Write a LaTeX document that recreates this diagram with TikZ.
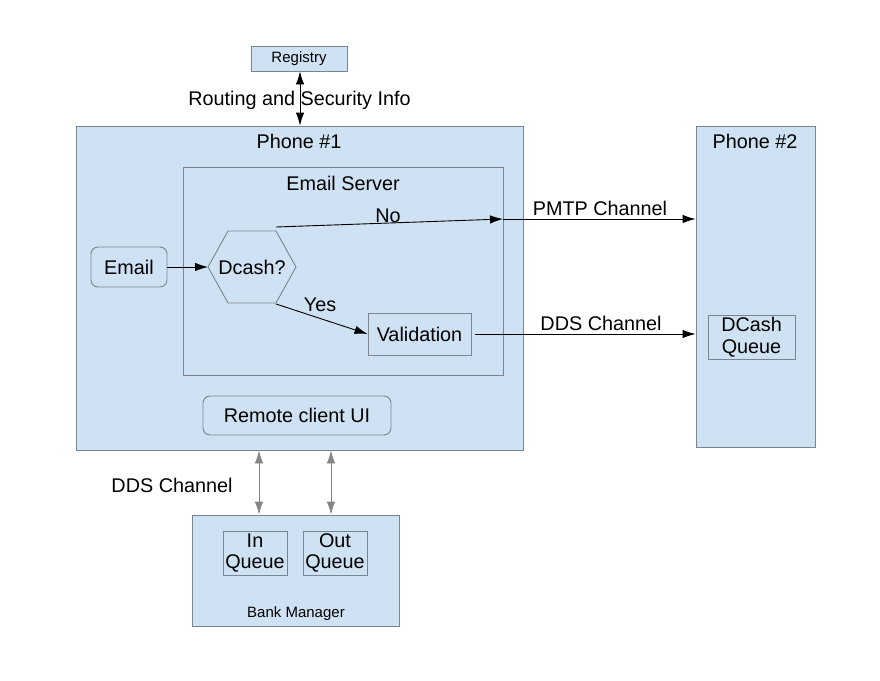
\documentclass[tikz,border=0pt]{standalone}
\usepackage{fontspec}
\setmainfont{Liberation Sans}
\usetikzlibrary{arrows.meta}
\definecolor{boxfill}{HTML}{CFE2F3}
\definecolor{boxline}{HTML}{7A858F}
\definecolor{greyarrow}{HTML}{858585}
\tikzset{
  box/.style={draw=boxline, fill=boxfill, line width=0.9pt, inner sep=0pt, minimum width=#1},
  rbox/.style={box=#1, rounded corners=7pt},
  txt/.style={font=\fontsize{19.8}{21.5}\selectfont, inner sep=0pt},
  small/.style={font=\fontsize{15}{17}\selectfont, inner sep=0pt},
  arr/.style={line width=0.9pt, -{Latex[length=13pt,width=8.5pt]}},
  darr/.style={line width=0.9pt, {Latex[length=13pt,width=8.5pt]}-{Latex[length=13pt,width=8.5pt]}},
  garr/.style={line width=0.9pt, draw=greyarrow, {Latex[length=13pt,width=8.5pt,color=greyarrow]}-{Latex[length=13pt,width=8.5pt,color=greyarrow]}}
}
\begin{document}
\begin{tikzpicture}[x=1pt,y=-1pt]
\useasboundingbox (0,0) rectangle (880,680);
% containers
\node[box=96, minimum height=25] (reg) at (299,58.5) {};
\node[small] (regt) at (299,59) {Registry};
\node[box=447, minimum height=324] (p1) at (299.5,288) {};
\node[txt] (p1t) at (299,141) {Phone \#1};
\node[box=119, minimum height=321] (p2) at (755.5,286.5) {};
\node[txt] (p2t) at (755,141) {Phone \#2};
\node[box=320, minimum height=208] (es) at (343,271) {};
\node[txt] (est) at (343,183) {Email Server};
% inner nodes
\node[rbox=76, minimum height=40, txt] (email) at (129,267) {Email};
\draw[boxline, fill=boxfill, line width=0.9pt]
  (208,267) coordinate (dl) -- (228,231) -- (276,231) coordinate (dtr) -- (296,267)
  -- (276,303) coordinate (dbr) -- (228,303) -- cycle;
\node[txt] (dcash) at (252,267) {Dcash?};
\node[box=103, minimum height=42, txt] (val) at (419.5,334) {Validation};
\node[box=87, minimum height=44, txt, align=center] (dq) at (751.5,337) {DCash\\Queue};
\node[rbox=188, minimum height=39, txt] (ui) at (297,415.5) {Remote client UI};
\node[box=207, minimum height=111] (bank) at (295.5,570.5) {};
\node[small] (bankt) at (296,614) {Bank Manager};
\node[box=64, minimum height=44, txt, align=center] (inq) at (255,553) {In\\Queue};
\node[box=64, minimum height=44, txt, align=center] (outq) at (335,553) {Out\\Queue};
% connectors
\draw[darr] (reg.south -| 300,0) -- (p1.north -| 300,0);
\node[txt] (rlab) at (299.5,100) {Routing and Security Info};
\draw[arr] (email.east) -- (dl);
\coordinate (noend) at (503,219);
\draw[arr] ([yshift=4pt]dtr) -- (noend);
\node[txt] (nolab) at (388,216) {No};
\draw[arr] (noend) -- (noend -| p2.west);
\node[txt] (pmtp) at (600,208) {PMTP Channel};
\draw[arr] ([yshift=-1pt]dbr) -- (val.west);
\node[txt] (yes) at (320,305) {Yes};
\draw[arr] ([xshift=4pt]val.east) -- (val.east -| p2.west);
\node[txt] (dds1) at (601,323) {DDS Channel};
\draw[garr] (p1.south -| 259,0) -- (bank.north -| 259,0);
\draw[garr] (p1.south -| 331,0) -- (bank.north -| 331,0);
\node[txt] (dds2) at (172,485) {DDS Channel};
\end{tikzpicture}
\end{document}
